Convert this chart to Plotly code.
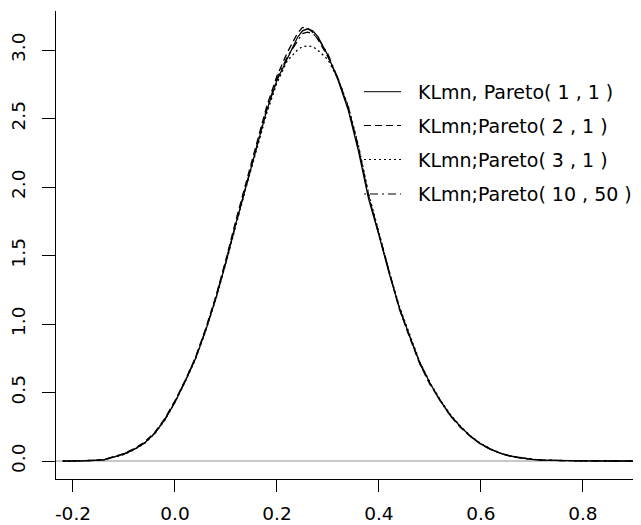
import plotly.graph_objects as go

# ---- data ----
x_grid = [-0.22, -0.18, -0.14, -0.10, -0.08, -0.06, -0.04, -0.02,
          0.00, 0.02, 0.04, 0.06, 0.08, 0.10, 0.12, 0.14, 0.16, 0.18, 0.20, 0.22, 0.24,
          0.25, 0.26, 0.27,
          0.28, 0.30, 0.32, 0.34, 0.36, 0.38, 0.40, 0.42, 0.44, 0.46, 0.48, 0.50,
          0.52, 0.54, 0.56, 0.58, 0.60, 0.62, 0.64, 0.66, 0.68, 0.70, 0.72,
          0.76, 0.80, 0.85, 0.91]

dens_pareto_1_1 = [0.000, 0.001, 0.008, 0.050, 0.085, 0.130, 0.200, 0.300,
                   0.430, 0.580, 0.745, 0.950, 1.185, 1.450, 1.740, 2.010, 2.280, 2.560, 2.780, 2.940, 3.090,
                   3.140, 3.155, 3.140,
                   3.100, 2.960, 2.780, 2.560, 2.260, 1.910, 1.650, 1.370, 1.120, 0.915, 0.720, 0.570,
                   0.443, 0.335, 0.250, 0.180, 0.125, 0.085, 0.055, 0.035, 0.021, 0.012, 0.007,
                   0.003, 0.001, 0.0005, 0.000]

dens_pareto_2_1 = [0.000, 0.002, 0.010, 0.055, 0.090, 0.138, 0.208, 0.310,
                   0.440, 0.590, 0.755, 0.965, 1.200, 1.470, 1.765, 2.040, 2.310, 2.590, 2.810, 2.980, 3.120,
                   3.165, 3.160, 3.130,
                   3.080, 2.950, 2.790, 2.580, 2.290, 1.930, 1.660, 1.380, 1.110, 0.905, 0.710, 0.560,
                   0.440, 0.330, 0.245, 0.178, 0.122, 0.083, 0.054, 0.034, 0.020, 0.012, 0.007,
                   0.003, 0.001, 0.0005, 0.000]

dens_pareto_3_1 = [0.000, 0.001, 0.007, 0.048, 0.083, 0.128, 0.198, 0.298,
                   0.428, 0.578, 0.742, 0.945, 1.180, 1.445, 1.735, 2.005, 2.270, 2.540, 2.760, 2.920, 3.000,
                   3.025, 3.030, 3.025,
                   3.000, 2.930, 2.790, 2.590, 2.300, 1.950, 1.670, 1.385, 1.130, 0.920, 0.725, 0.575,
                   0.448, 0.340, 0.255, 0.183, 0.128, 0.087, 0.056, 0.036, 0.022, 0.013, 0.007,
                   0.003, 0.001, 0.0005, 0.000]

dens_pareto_10_50 = [0.000, 0.001, 0.009, 0.052, 0.088, 0.134, 0.204, 0.305,
                     0.435, 0.585, 0.750, 0.955, 1.190, 1.460, 1.750, 2.020, 2.290, 2.570, 2.790, 2.950, 3.070,
                     3.120, 3.130, 3.120,
                     3.090, 2.970, 2.790, 2.580, 2.280, 1.930, 1.655, 1.375, 1.115, 0.910, 0.715, 0.565,
                     0.440, 0.332, 0.248, 0.178, 0.124, 0.084, 0.054, 0.034, 0.021, 0.012, 0.007,
                     0.003, 0.001, 0.0005, 0.000]

series_values = [dens_pareto_1_1, dens_pareto_2_1, dens_pareto_3_1, dens_pareto_10_50]
series_labels = ["KLmn, Pareto( 1 , 1 )", "KLmn;Pareto( 2 , 1 )",
                 "KLmn;Pareto( 3 , 1 )", "KLmn;Pareto( 10 , 50 )"]
series_dash = ["solid", "7px,4px", "2px,3px", "2px,4px,8px,4px"]

x_ticks = [-0.2, 0.0, 0.2, 0.4, 0.6, 0.8]
x_tick_labels = ["-0.2", "0.0", "0.2", "0.4", "0.6", "0.8"]
y_ticks = [0.0, 0.5, 1.0, 1.5, 2.0, 2.5, 3.0]
y_tick_labels = ["0.0", "0.5", "1.0", "1.5", "2.0", "2.5", "3.0"]

FONT = "DejaVu Sans"

fig = go.Figure()
for vals, lab, dash in zip(series_values, series_labels, series_dash):
    fig.add_trace(go.Scatter(x=x_grid, y=vals, mode="lines", name=lab,
                             line=dict(color="black", width=1.3, dash=dash),
                             showlegend=False))

# The page body has an 8px margin, so the figure is sized/offset to compensate.
OFF = 8
W, H = 641 - OFF, 525 - OFF
L, R, T, B = 56 - OFF, 0, 11 - OFF, 46
pw, ph = W - L - R, H - T - B
def px2paper_x(px):
    return (px - OFF - L) / pw
def px2paper_y(py):
    return (H - B - (py - OFF)) / ph

# manual legend (no box), placed at top right like the R legend
legend_rows = [91.7, 125.5, 159.5, 194.0]
for lab, dash, ry in zip(series_labels, series_dash, legend_rows):
    fig.add_shape(type="line", xref="paper", yref="paper",
                  x0=px2paper_x(364), x1=px2paper_x(401),
                  y0=px2paper_y(ry), y1=px2paper_y(ry),
                  line=dict(color="black", width=1, dash=dash))
    fig.add_annotation(text=lab, xref="paper", yref="paper",
                       x=px2paper_x(416), y=px2paper_y(ry),
                       xanchor="left", yanchor="middle", showarrow=False,
                       font=dict(family=FONT, size=19, color="black"))

fig.update_layout(
    width=W, height=H,
    margin=dict(l=L, r=R, t=T, b=B, pad=0),
    paper_bgcolor="white", plot_bgcolor="white",
    font=dict(family=FONT, size=18, color="black"),
    showlegend=False,
)
fig.update_xaxes(range=[-0.2333, 0.914], tickmode="array", tickvals=x_ticks,
                 ticktext=x_tick_labels, ticks="outside", ticklen=12, tickwidth=1,
                 tickcolor="black", showline=True, linecolor="black", linewidth=1.2,
                 showgrid=False, zeroline=False, ticklabelstandoff=6, automargin=False,
                 tickfont=dict(family=FONT, size=18.5, color="black"))
fig.update_yaxes(range=[-0.131, 3.285], tickmode="array", tickvals=y_ticks,
                 ticktext=y_tick_labels, ticks="outside", ticklen=13, tickwidth=1,
                 tickcolor="black", showline=True, linecolor="black", linewidth=1.2,
                 showgrid=False, zeroline=True, zerolinecolor="#c8c8c8", zerolinewidth=1.5,
                 tickangle=-90, ticklabelstandoff=10, automargin=False,
                 tickfont=dict(family=FONT, size=18.5, color="black"))

fig.write_html("out.html")
